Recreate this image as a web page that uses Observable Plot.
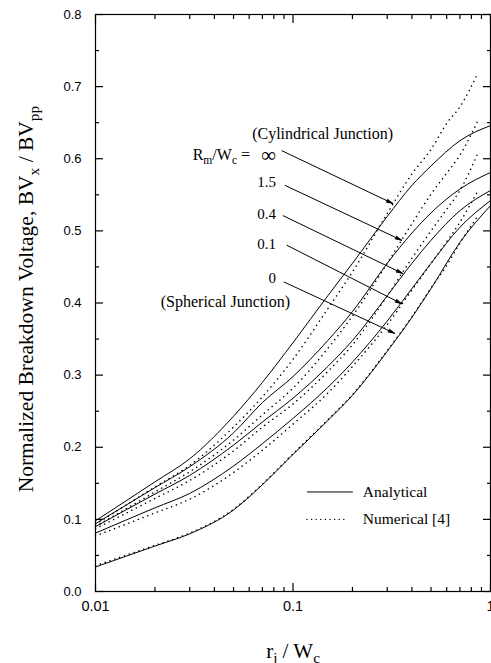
<!DOCTYPE html>
<html>
<head>
<meta charset="utf-8">
<script src="https://cdn.jsdelivr.net/npm/d3@7"></script>
<script src="https://cdn.jsdelivr.net/npm/@observablehq/plot@0.6"></script>
<style>
  body { margin: 0; background: #fff; }
  #chart svg { display: block; }
</style>
</head>
<body>
<div id="chart"></div>
<script>
// ---------- data ----------
const seriesNames = ["∞", "1.5", "0.4", "0.1", "0"];

// Analytical (solid)
const xAnalytical = [0.01, 0.02, 0.03, 0.05, 0.07, 0.1, 0.15, 0.2, 0.3, 0.4, 0.5, 0.7, 1.0];
const analyticalInf = [0.098, 0.152, 0.184, 0.243, 0.290, 0.345, 0.410, 0.455, 0.520, 0.563, 0.590, 0.625, 0.646];
const analytical15  = [0.094, 0.144, 0.173, 0.220, 0.262, 0.298, 0.348, 0.388, 0.455, 0.497, 0.525, 0.558, 0.581];
const analytical04  = [0.090, 0.135, 0.161, 0.203, 0.235, 0.268, 0.312, 0.348, 0.410, 0.455, 0.487, 0.528, 0.556];
const analytical01  = [0.081, 0.116, 0.136, 0.174, 0.205, 0.240, 0.283, 0.318, 0.375, 0.420, 0.455, 0.505, 0.542];
const analytical0   = [0.034, 0.063, 0.080, 0.113, 0.148, 0.190, 0.237, 0.272, 0.333, 0.380, 0.420, 0.484, 0.535];

// Numerical [4] (dotted)
const xNumerical = [0.01, 0.02, 0.03, 0.05, 0.07, 0.1, 0.15, 0.2, 0.3, 0.4, 0.5, 0.6, 0.7, 0.86];
const numericalInf = [0.093, 0.145, 0.175, 0.228, 0.270, 0.322, 0.392, 0.443, 0.524, 0.579, 0.613, 0.649, 0.672, 0.718];
const numerical15  = [0.090, 0.138, 0.166, 0.210, 0.245, 0.282, 0.337, 0.382, 0.455, 0.510, 0.551, 0.580, 0.605, 0.652];
const numerical04  = [0.087, 0.129, 0.154, 0.195, 0.228, 0.260, 0.305, 0.342, 0.410, 0.462, 0.500, 0.530, 0.556, 0.607];
const numerical01  = [0.077, 0.109, 0.128, 0.165, 0.196, 0.232, 0.275, 0.312, 0.370, 0.418, 0.455, 0.485, 0.512, 0.555];
const numerical0   = [0.036, 0.064, 0.081, 0.114, 0.149, 0.191, 0.238, 0.273, 0.334, 0.381, 0.421, 0.452, 0.483, 0.520];

// Axis ticks and labels
const yTicks = [0, 0.1, 0.2, 0.3, 0.4, 0.5, 0.6, 0.7, 0.8];
const yTickLabels = ["0.0", "0.1", "0.2", "0.3", "0.4", "0.5", "0.6", "0.7", "0.8"];
const yMinorTicks = [0.05, 0.15, 0.25, 0.35, 0.45, 0.55, 0.65, 0.75];
const xTicks = [0.01, 0.1, 1];
const xTickLabels = ["0.01", "0.1", "1"];
const xMinorTicks = [0.02, 0.03, 0.04, 0.05, 0.06, 0.07, 0.08, 0.09, 0.2, 0.3, 0.4, 0.5, 0.6, 0.7, 0.8, 0.9];
const xTitle = "r_{j} / W_{c}";
const yTitle = "Normalized Breakdown Voltage, BV_{x} / BV_{pp}";

// Annotations (data coordinates)
const annotLabels = ["∞", "1.5", "0.4", "0.1", "0"];
const annotX = [0.082, 0.082, 0.082, 0.082, 0.082];
const annotY = [0.605, 0.567, 0.523, 0.481, 0.434];
const arrowX1 = [0.0880, 0.0912, 0.0892, 0.0932, 0.0902];
const arrowY1 = [0.611, 0.563, 0.521, 0.480, 0.429];
const arrowX2 = [0.320, 0.355, 0.359, 0.355, 0.327];
const arrowY2 = [0.538, 0.487, 0.441, 0.399, 0.358];
const notes = ["(Cylindrical Junction)", "R_{m}/W_{c} =", "(Spherical Junction)"];
const notesX = [0.0621, 0.0606, 0.0966];
const notesY = [0.635, 0.605, 0.401];
const notesAnchor = ["start", "end", "end"];

// Legend
const legendLabels = ["Analytical", "Numerical [4]"];
const legendY = [0.138, 0.100];
const legendLineX1 = [0.1177, 0.1177];
const legendLineX2 = [0.2009, 0.1896];
const legendTextX = [0.2257, 0.2257];

// ---------- build tables ----------
const analyticalSeries = [analyticalInf, analytical15, analytical04, analytical01, analytical0];
const numericalSeries = [numericalInf, numerical15, numerical04, numerical01, numerical0];
const analyticalRows = analyticalSeries.flatMap((ys, s) => ys.map((y, i) => ({x: xAnalytical[i], y, series: seriesNames[s]})));
const numericalRows = numericalSeries.flatMap((ys, s) => ys.map((y, i) => ({x: xNumerical[i], y, series: seriesNames[s]})));
const annotRows = annotLabels.map((t, i) => ({t, x: annotX[i], y: annotY[i]}));
const arrowRows = arrowX1.map((d, i) => ({x1: arrowX1[i], y1: arrowY1[i], x2: arrowX2[i], y2: arrowY2[i]}));
const noteRows = notes.map((t, i) => ({t, x: notesX[i], y: notesY[i], a: notesAnchor[i]}));
const legendRows = legendLabels.map((t, i) => ({t, y: legendY[i], x1: legendLineX1[i], x2: legendLineX2[i], tx: legendTextX[i], dashed: i === 1}));

const SERIF = "Liberation Serif, Times New Roman, serif";
const SANS = "Liberation Sans, Arial, sans-serif";
const fmtX = d => xTickLabels[xTicks.indexOf(d)];
const fmtY = d => yTickLabels[yTicks.indexOf(d)];
const blank = () => "";

const svg = Plot.plot({
  width: 491,
  height: 663,
  marginTop: 14,
  marginBottom: 72,
  marginLeft: 95,
  marginRight: 1,
  style: {background: "white", color: "black", fontFamily: SANS},
  x: {type: "log", domain: [0.01, 1]},
  y: {domain: [0, 0.8]},
  marks: [
    // tick marks (inward)
    Plot.axisY(yTicks, {anchor: "left", tickSize: -8, tickFormat: blank, label: null, strokeWidth: 1.2}),
    Plot.axisY(yMinorTicks, {anchor: "left", tickSize: -4, tickFormat: blank, label: null, strokeWidth: 1.2}),
    Plot.axisY(yTicks, {anchor: "right", tickSize: -8, tickFormat: blank, label: null, strokeWidth: 1.2}),
    Plot.axisY(yMinorTicks, {anchor: "right", tickSize: -4, tickFormat: blank, label: null, strokeWidth: 1.2}),
    Plot.axisX(xTicks, {anchor: "bottom", tickSize: -8, tickFormat: blank, label: null, strokeWidth: 1.2}),
    Plot.axisX(xMinorTicks, {anchor: "bottom", tickSize: -4, tickFormat: blank, label: null, strokeWidth: 1.2}),
    Plot.axisX(xTicks, {anchor: "top", tickSize: -8, tickFormat: blank, label: null, strokeWidth: 1.2}),
    Plot.axisX(xMinorTicks, {anchor: "top", tickSize: -4, tickFormat: blank, label: null, strokeWidth: 1.2}),
    // tick labels
    Plot.axisY(yTicks, {anchor: "left", tickSize: 0, tickPadding: 14, tickFormat: fmtY, label: null, fontSize: 13, fontFamily: SANS}),
    Plot.axisX(xTicks, {anchor: "bottom", tickSize: 0, tickPadding: 9, tickFormat: fmtX, label: null, fontSize: 14.5, fontFamily: SANS}),
    // axis titles
    Plot.text([yTitle], {frameAnchor: "left", textAnchor: "middle", lineAnchor: "middle", dx: -69, dy: -4, rotate: -90, fontSize: 21.5, fontFamily: SERIF}),
    Plot.text([xTitle], {frameAnchor: "bottom", textAnchor: "middle", lineAnchor: "middle", dy: 60, fontSize: 21, fontFamily: SERIF}),
    // curves
    Plot.line(analyticalRows, {x: "x", y: "y", z: "series", stroke: "black", strokeWidth: 1, curve: "monotone-x"}),
    Plot.line(numericalRows, {x: "x", y: "y", z: "series", stroke: "black", strokeWidth: 1.5, strokeDasharray: "0.1 5", strokeLinecap: "round", curve: "monotone-x"}),
    // annotations
    Plot.text(noteRows.filter(d => d.a === "start"), {x: "x", y: "y", text: "t", textAnchor: "start", fontSize: 16, fontFamily: SERIF}),
    Plot.text(noteRows.filter(d => d.a === "end"), {x: "x", y: "y", text: "t", textAnchor: "end", fontSize: 16, fontFamily: SERIF}),
    Plot.text(annotRows.filter(d => d.t !== "∞"), {x: "x", y: "y", text: "t", textAnchor: "end", fontSize: 15, fontFamily: SERIF}),
    Plot.text(annotRows.filter(d => d.t === "∞"), {x: "x", y: "y", text: "t", textAnchor: "end", fontSize: 21, fontFamily: SERIF}),
    Plot.arrow(arrowRows, {x1: "x1", y1: "y1", x2: "x2", y2: "y2", stroke: "black", fill: "black", strokeWidth: 1, headLength: 10, headAngle: 26}),
    // legend
    Plot.link(legendRows.filter(d => !d.dashed), {x1: "x1", x2: "x2", y1: "y", y2: "y", stroke: "black", strokeWidth: 1}),
    Plot.link(legendRows.filter(d => d.dashed), {x1: "x1", x2: "x2", y1: "y", y2: "y", stroke: "black", strokeWidth: 1.3, strokeDasharray: "0.1 4.5", strokeLinecap: "round"}),
    Plot.text(legendRows, {x: "tx", y: "y", text: "t", textAnchor: "start", fontSize: 15.5, fontFamily: SERIF}),
    Plot.frame({stroke: "black", strokeWidth: 1.2})
  ]
});

document.getElementById("chart").appendChild(svg);

// subscripts: turn "_{..}" into real subscript tspans
svg.querySelectorAll("text").forEach(t => {
  const s = t.textContent;
  if (!s.includes("_{")) return;
  const fs = parseFloat(getComputedStyle(t).fontSize) || 15;
  const shift = 0.25 * fs;
  const parts = s.split(/_\{([^}]*)\}/);
  while (t.firstChild) t.removeChild(t.firstChild);
  const NS = "http://www.w3.org/2000/svg";
  let prevSub = false;
  parts.forEach((p, i) => {
    if (p === "") return;
    const sp = document.createElementNS(NS, "tspan");
    sp.textContent = p;
    const isSub = i % 2 === 1;
    if (isSub) {
      sp.setAttribute("font-size", (0.72 * fs) + "px");
      sp.setAttribute("dy", shift);
    } else if (prevSub) {
      sp.setAttribute("dy", -shift);
    }
    prevSub = isSub;
    t.appendChild(sp);
  });
});
</script>
</body>
</html>
